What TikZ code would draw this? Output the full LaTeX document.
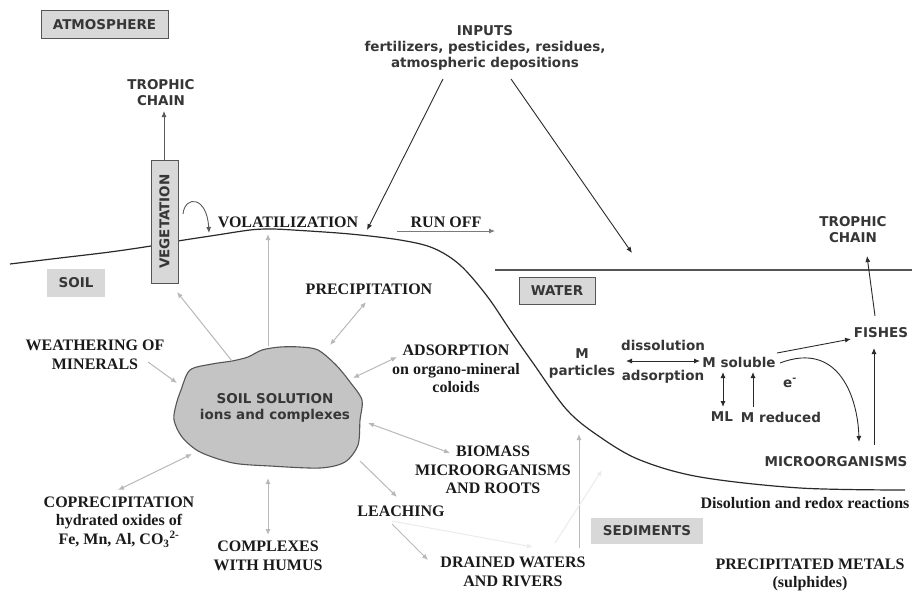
\documentclass[tikz,border=0pt]{standalone}
\usepackage{fontspec}
\setmainfont{Liberation Serif}
\newfontfamily\vsans{DejaVu Sans}
\usetikzlibrary{arrows.meta}
\definecolor{txtgray}{HTML}{363636}
\definecolor{txtblack}{HTML}{1A1A1A}
\definecolor{arrowdark}{HTML}{2A2A2A}
\definecolor{arrowmid}{HTML}{5A5A5A}
\definecolor{arrowlight}{HTML}{B8B8B8}
\definecolor{boxfill}{HTML}{D8D8D8}
\definecolor{boxdraw}{HTML}{555555}
\definecolor{blobfill}{HTML}{C4C4C4}
\tikzset{
  sanslbl/.style={font=\vsans\bfseries\fontsize{13.5}{16}\selectfont, text=txtgray, align=center, inner sep=0pt},
  seriflbl/.style={font=\bfseries\fontsize{16}{18.6}\selectfont, text=txtblack, align=center, inner sep=0pt},
  labelbox/.style={sanslbl, fill=boxfill, draw=boxdraw, line width=1pt},
  plainbox/.style={sanslbl, fill=boxfill},
  tipA/.tip={Latex[length=6pt,width=5pt]},
  darkarrow/.style={draw=arrowdark, line width=0.9pt, -tipA},
  midarrow/.style={draw=arrowmid, line width=0.9pt, -tipA},
  darkdbl/.style={draw=arrowdark, line width=0.9pt, tipA-tipA},
  lightarrow/.style={draw=arrowlight, line width=1pt, -tipA},
  lightdbl/.style={draw=arrowlight, line width=1pt, tipA-tipA},
  faintarrow/.style={draw=black!8, line width=1pt, -tipA},
}
\begin{document}
\begin{tikzpicture}[x=1pt,y=-1pt]
\useasboundingbox (0,0) rectangle (912,594);

% ground surface and water line
\draw[arrowdark, line width=1.2pt] plot[smooth, tension=0.55] coordinates {
 (10,264) (60,258) (110,252) (151,246) (178,241) (217,235) (250,230) (270,229)
 (293,230) (350,234) (400,240) (433,248) (460,265) (487,296) (510,330) (533,363)
 (567,410) (600,437) (640,460) (700,477) (800,488) (905,490)};
\coordinate (wl1) at (495,270);
\coordinate (wl2) at (912,270);
\draw[boxdraw, line width=1.2pt] (wl1) -- (wl2);

% boxes
\node[labelbox, minimum width=127pt, minimum height=28pt] (atm) at (104.5,25) {ATMOSPHERE};
\node[labelbox, rotate=90, minimum width=123pt, minimum height=27pt] (veg) at (164.5,221.5) {VEGETATION};
\node[plainbox, minimum width=58pt, minimum height=28pt] (soil) at (76,283) {SOIL};
\node[labelbox, minimum width=76pt, minimum height=27pt] (water) at (557,290.5) {WATER};
\node[plainbox, minimum width=112pt, minimum height=26pt] (sed) at (647,531) {SEDIMENTS};

% soil solution blob
\draw[boxdraw, fill=blobfill, line width=1.1pt] plot[smooth cycle, tension=0.5] coordinates {
 (190,370) (212,364) (232,361) (248,357) (262,350) (280,347) (300,347) (318,350)
 (336,365) (350,382) (362,400) (360,420) (358,445) (345,462) (320,468) (270,466)
 (233,463) (200,452) (182,437) (174,420) (176,405) (181,390)};
\node[sanslbl] (blob) at (275,408) {SOIL SOLUTION\\ions and complexes};

% text labels
\node[sanslbl] (trophL) at (161,93) {TROPHIC\\CHAIN};
\node[sanslbl] (inputs) at (485,48) {INPUTS\\fertilizers, pesticides, residues,\\atmospheric depositions};
\node[sanslbl] (trophR) at (853,230) {TROPHIC\\CHAIN};
\node[seriflbl] (volat) at (288,222) {VOLATILIZATION};
\node[seriflbl] (runoff) at (446,222) {RUN OFF};
\node[seriflbl] (precip) at (369,289) {PRECIPITATION};
\node[seriflbl] (weath) at (95,355) {WEATHERING OF\\MINERALS};
\node[seriflbl] (adsorp) at (456,369) {ADSORPTION\\on organo-mineral\\coloids};
\node[seriflbl] (biomass) at (493,470) {BIOMASS\\MICROORGANISMS\\AND ROOTS};
\node[seriflbl] (leach) at (401,511) {LEACHING};
\node[seriflbl] (drained) at (513,572) {DRAINED WATERS\\AND RIVERS};
\node[seriflbl] (copre) at (119,522) {COPRECIPITATION\\hydrated oxides of\\Fe, Mn, Al, CO\textsubscript{3}\textsuperscript{2-}};
\node[seriflbl] (cplx) at (268,556) {COMPLEXES\\WITH HUMUS};
\node[seriflbl] (disol) at (805,503) {Disolution and redox reactions};
\node[seriflbl] (precmet) at (810,575) {PRECIPITATED METALS\\(sulphides)};
\node[sanslbl, font=\vsans\bfseries\fontsize{13.5}{17}\selectfont] (mpart) at (582,363) {M\\particles};
\node[sanslbl] (dissol) at (663,345) {dissolution};
\node[sanslbl] (adsw) at (663,377) {adsorption};
\node[sanslbl] (msol) at (739,362) {M soluble};
\node[sanslbl] (ml) at (722,417) {ML};
\node[sanslbl] (mred) at (781,417) {M reduced};
\node[sanslbl] (elec) at (790,383) {e\textsuperscript{-}};
\node[sanslbl] (fishes) at (881,333) {FISHES};
\node[sanslbl] (micro) at (836,462) {MICROORGANISMS};

% coordinates for connector ends
\coordinate (vegtop) at (164,160);
\coordinate (trophLb) at (164,111);
\coordinate (volA) at (183,214);
\coordinate (volB) at (209,233);
\coordinate (inA) at (443,79);
\coordinate (inAt) at (367,230);
\coordinate (inB) at (511,79);
\coordinate (inBt) at (632,253);
\coordinate (roA) at (397,231);
\coordinate (roB) at (495,231);
\coordinate (bVeg) at (232,361);
\coordinate (vegB) at (177,292);
\coordinate (bTop) at (268,346);
\coordinate (surf) at (268,234);
\coordinate (weA) at (148,362);
\coordinate (weB) at (177,383);
\coordinate (prA) at (330,345);
\coordinate (prB) at (366,302);
\coordinate (adA) at (353,378);
\coordinate (adB) at (397,357);
\coordinate (biA) at (368,423);
\coordinate (biB) at (450,453);
\coordinate (leA) at (360,461);
\coordinate (leB) at (397,497);
\coordinate (drA) at (392,524);
\coordinate (drB) at (428,560);
\coordinate (coA) at (118,490);
\coordinate (coB) at (192,454);
\coordinate (cxA) at (268,478);
\coordinate (cxB) at (268,535);
\coordinate (vuA) at (579,548);
\coordinate (vuB) at (579,434);
\coordinate (faA) at (555,543);
\coordinate (faB) at (602,470);
\coordinate (fbA) at (392,521);
\coordinate (fbB) at (533,547);
\coordinate (dsA) at (626,361);
\coordinate (dsB) at (700,361);
\coordinate (mlA) at (723,372);
\coordinate (mlB) at (723,407);
\coordinate (mrA) at (753,407);
\coordinate (mrB) at (753,372);
\coordinate (sfA) at (777,353);
\coordinate (sfB) at (851,339);
\coordinate (smA) at (780,363);
\coordinate (smB) at (859,442);
\coordinate (mfA) at (874,445);
\coordinate (mfB) at (874,348);
\coordinate (ftA) at (875,316);
\coordinate (ftB) at (867,256);

% atmosphere / soil connectors
\draw[midarrow] (vegtop) -- (trophLb);
\draw[midarrow] (volA) .. controls (185,195) and (207,196) .. (volB);
\draw[darkarrow] (inA) -- (inAt);
\draw[darkarrow] (inB) -- (inBt);
\draw[draw=arrowmid!80, line width=0.9pt, -tipA] (roA) -- (roB);
\draw[lightarrow] (bVeg) -- (vegB);
\draw[lightarrow] (bTop) -- (surf);
\draw[lightarrow] (weA) -- (weB);
\draw[lightdbl] (prA) -- (prB);
\draw[lightdbl] (adA) -- (adB);
\draw[lightdbl] (biA) -- (biB);
\draw[lightarrow] (leA) -- (leB);
\draw[lightarrow] (drA) -- (drB);
\draw[lightdbl] (coA) -- (coB);
\draw[lightdbl] (cxA) -- (cxB);
\draw[lightarrow] (vuA) -- (vuB);
\draw[faintarrow] (faA) -- (faB);
\draw[faintarrow] (fbA) -- (fbB);

% water connectors
\draw[darkdbl] (dsA) -- (dsB);
\draw[darkdbl] (mlA) -- (mlB);
\draw[darkarrow] (mrA) -- (mrB);
\draw[darkarrow] (sfA) -- (sfB);
\draw[darkarrow] (smA) .. controls (840,340) and (858,400) .. (smB);
\draw[darkarrow] (mfA) -- (mfB);
\draw[darkarrow] (ftA) -- (ftB);
\end{tikzpicture}
\end{document}
